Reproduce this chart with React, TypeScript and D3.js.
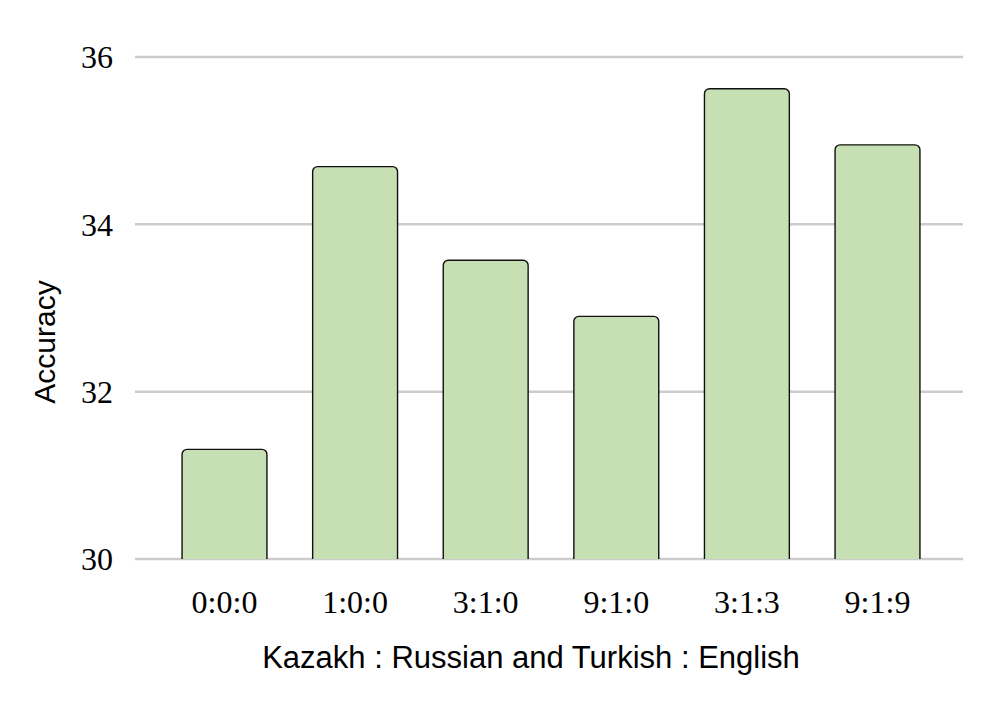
import React from 'react';
import * as d3 from 'd3';

const ratios = ['0:0:0', '1:0:0', '3:1:0', '9:1:0', '3:1:3', '9:1:9'];
const accuracy = [31.31, 34.69, 33.57, 32.9, 35.62, 34.95];
const yTicks = [30, 32, 34, 36];

const W = 997;
const H = 726;

// bar with rounded top corners only
function barPath(x: number, y: number, w: number, h: number, r: number) {
  const p = d3.path();
  p.moveTo(x, y + h);
  p.lineTo(x, y + r);
  p.arcTo(x, y, x + r, y, r);
  p.lineTo(x + w - r, y);
  p.arcTo(x + w, y, x + w, y + r, r);
  p.lineTo(x + w, y + h);
  return p.toString();
}

export default function App() {
  const y = d3.scaleLinear().domain([30, 36]).range([559, 57]);
  const x = d3.scaleBand<string>()
    .domain(ratios)
    .range([159.2, 942.8])
    .paddingInner(0.35)
    .paddingOuter(0.175);

  return (
    <svg width={W} height={H} style={{ display: 'block', position: 'absolute', left: 0, top: 0 }}>
      <rect width={W} height={H} fill="#fff" />
      {yTicks.map(t => (
        <g key={t}>
          <line x1={135} x2={963} y1={y(t)} y2={y(t)} stroke="#cccccc" strokeWidth={2.5} />
          <text x={113} y={y(t)} dy="0.35em" textAnchor="end"
            fontFamily="Liberation Serif" fontSize={32} fill="#000">{t}</text>
        </g>
      ))}
      {ratios.map((r, i) => {
        const bx = x(r)!;
        const top = y(accuracy[i]);
        return (
          <path key={r} d={barPath(bx, top, x.bandwidth(), y(30) - top, 5)}
            fill="#c6e0b4" stroke="#111" strokeWidth={1.4} />
        );
      })}
      {ratios.map(r => (
        <text key={r} x={x(r)! + x.bandwidth() / 2} y={613} textAnchor="middle"
          fontFamily="Liberation Serif" fontSize={32} fill="#000">{r}</text>
      ))}
      <text x={531} y={668} textAnchor="middle" fontFamily="Liberation Sans" fontSize={31} fill="#000">
        Kazakh : Russian and Turkish : English
      </text>
      <text transform="translate(55,342) rotate(-90)" textAnchor="middle"
        fontFamily="Liberation Sans" fontSize={30} fill="#000">Accuracy</text>
    </svg>
  );
}
